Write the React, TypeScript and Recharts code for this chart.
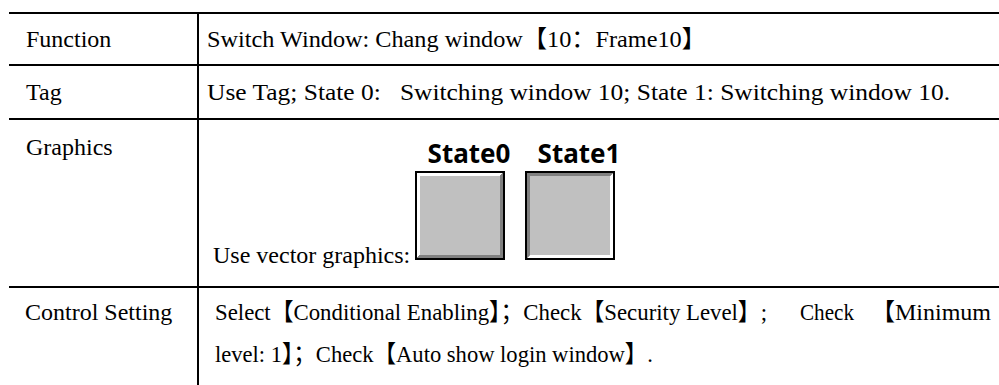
import React from 'react';
import { BarChart, Bar, XAxis, YAxis } from 'recharts';

// table contents
const rowLabels = ['Function', 'Tag', 'Graphics', 'Control Setting'];
const functionText = 'Switch Window: Chang window【10：Frame10】';
const tagText = 'Use Tag; State 0:\u00a0\u00a0\u00a0Switching window 10; State 1: Switching window 10.';
const graphicsText = 'Use vector graphics:';
const controlLine1 = ['Select【Conditional Enabling】；Check【Security Level】;', 'Check', '【Minimum'];
const controlLine2 = 'level: 1】；Check【Auto show login window】.';

// the two button states drawn in the Graphics row
const stateNames = ['State0', 'State1'];
const stateValues = [1, 1];
const statePressed = [false, true];

const stateData = stateNames.map((name, i) => ({ name, value: stateValues[i], pressed: statePressed[i] }));

const serif = "'Liberation Serif', 'Times New Roman', 'Noto Sans CJK SC', serif";

const BevelButton = (props: any) => {
    const { x, y, width, height, payload } = props;
    const bw = 2;
    const b = 3;
    const x0 = x + bw;
    const y0 = y + bw;
    const x1 = x + width - bw;
    const y1 = y + height - bw;
    const light = payload.pressed ? '#808080' : '#ffffff';
    const dark = payload.pressed ? '#ffffff' : '#808080';
    const tl = `${x0},${y0} ${x1},${y0} ${x1 - b},${y0 + b} ${x0 + b},${y0 + b} ${x0 + b},${y1 - b} ${x0},${y1}`;
    const br = `${x1},${y1} ${x0},${y1} ${x0 + b},${y1 - b} ${x1 - b},${y1 - b} ${x1 - b},${y0 + b} ${x1},${y0}`;
    return (
        <g>
            <rect x={x} y={y} width={width} height={height} fill="#000" />
            <polygon points={tl} fill={light} />
            <polygon points={br} fill={dark} />
            <rect x={x0 + b} y={y0 + b} width={x1 - x0 - 2 * b} height={y1 - y0 - 2 * b} fill="#c0c0c0" />
        </g>
    );
};

const StateTick = (props: any) => {
    const { x, y, payload } = props;
    return (
        <text x={x + 9} y={y} textAnchor="middle" fill="#000"
            style={{ fontFamily: "'Noto Sans', sans-serif", fontWeight: 700, fontSize: 26 }}>
            {payload.value}
        </text>
    );
};

const App = () => {
    const textStyle: React.CSSProperties = { fontFamily: serif, fontSize: 24 };
    const hLines = [13, 65, 119, 287];

    return (
        <div style={{ position: 'absolute', left: 0, top: 0, width: 999, height: 385, background: '#fff', overflow: 'hidden' }}>
            <svg width={999} height={385} style={{ position: 'absolute', left: 0, top: 0 }}>
                {hLines.map((ly) => (
                    <line key={ly} x1={9} x2={999} y1={ly} y2={ly} stroke="#000" strokeWidth={2} />
                ))}
                <line x1={198} x2={198} y1={12} y2={385} stroke="#000" strokeWidth={2} />

                <g fill="#000" style={textStyle}>
                    <text x={26} y={47}>{rowLabels[0]}</text>
                    <text x={26} y={100}>{rowLabels[1]}</text>
                    <text x={26} y={155}>{rowLabels[2]}</text>
                    <text x={25} y={320}>{rowLabels[3]}</text>

                    <text x={207} y={47} textLength={499} lengthAdjust="spacingAndGlyphs">{functionText}</text>
                    <text x={207} y={100} textLength={743} lengthAdjust="spacingAndGlyphs">{tagText}</text>
                    <text x={213} y={263}>{graphicsText}</text>

                    <text x={215} y={320} textLength={552} lengthAdjust="spacingAndGlyphs">{controlLine1[0]}</text>
                    <text x={800} y={320} textLength={54} lengthAdjust="spacingAndGlyphs">{controlLine1[1]}</text>
                    <text x={991} y={320} textAnchor="end">{controlLine1[2]}</text>
                    <text x={215} y={362} textLength={438} lengthAdjust="spacingAndGlyphs">{controlLine2}</text>
                </g>
            </svg>

            <div style={{ position: 'absolute', left: 395, top: 130 }}>
                <BarChart width={240} height={140} data={stateData} margin={{ top: 11, right: 10, bottom: 10, left: 10 }}>
                    <XAxis dataKey="name" orientation="top" height={30} axisLine={false} tickLine={false} tick={<StateTick />} interval={0} />
                    <YAxis hide domain={[0, 1]} />
                    <Bar dataKey="value" barSize={90} shape={<BevelButton />} isAnimationActive={false} />
                </BarChart>
            </div>
        </div>
    );
};

export default App;
